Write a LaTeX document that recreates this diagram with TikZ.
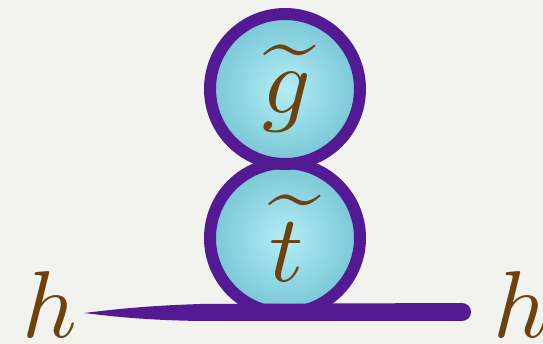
\documentclass[tikz,border=0pt]{standalone}
\usepackage{graphicx}
\definecolor{bgc}{HTML}{F2F2EF}
\definecolor{purp}{HTML}{531A93}
\definecolor{cin}{HTML}{B2EEF6}
\definecolor{cout}{HTML}{78C6D5}
\definecolor{brn}{HTML}{6D420F}
\tikzset{
  blob/.style={draw=purp, line width=12pt, inner color=cin, outer color=cout},
  lbl/.style={text=brn, inner sep=0pt},
}
\newcommand{\hugesym}[1]{\scalebox{9.5}{$#1$}}
\begin{document}
\begin{tikzpicture}[x=1pt,y=1pt]
\fill[bgc] (0,0) rectangle (543,344);
\useasboundingbox (0,0) rectangle (543,344);
% circles
\shade[blob] (285,106) circle[radius=75];
\shade[blob] (285,255) circle[radius=75];
\coordinate (bot) at (285,106);
\coordinate (top) at (285,255);
% propagator line (brush stroke)
\coordinate (lend) at (84,31);
\coordinate (rend) at (462,32);
\fill[purp] (lend) .. controls (110,34) and (140,38) .. (200,40)
  -- (462,41) arc[start angle=90, end angle=-90, radius=9]
  -- (200,23) .. controls (140,24) and (110,28) .. (lend) -- cycle;
% labels
\node[lbl] (g) at (287,256) {\hugesym{\widetilde{g}}};
\node[lbl] (t) at (287,106) {\hugesym{\widetilde{t}}};
\node[lbl, anchor=base west] (hl) at (22,6) {\hugesym{h}};
\node[lbl, anchor=base west] (hr) at (493,6) {\hugesym{h}};
\end{tikzpicture}
\end{document}
